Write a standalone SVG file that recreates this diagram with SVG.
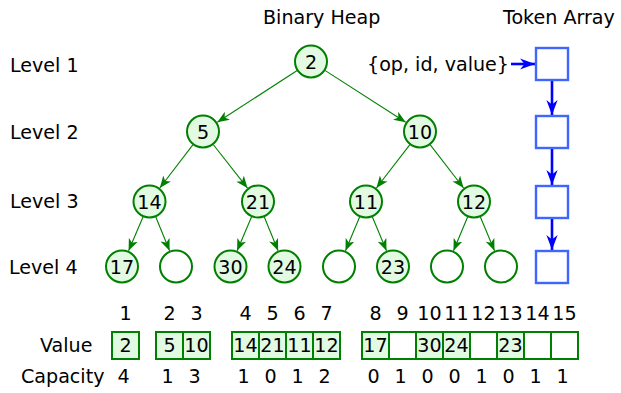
<svg xmlns="http://www.w3.org/2000/svg" width="621" height="393" viewBox="0 0 621 393">
<style>
text{font-family:"DejaVu Sans",Verdana,sans-serif;font-size:19.1px;fill:#000}
.c{text-anchor:middle}
.n{fill:#e2fae2;stroke:#008000;stroke-width:2}
.e{fill:#fff;stroke:#008000;stroke-width:2}
.edge{stroke:#008000;stroke-width:1.1;fill:none;marker-end:url(#ga)}
.tok{fill:#fff;stroke:#3f66ff;stroke-width:2.4}
.barr{stroke:#0000ff;stroke-width:2.6;fill:none;marker-end:url(#ba)}
.cf{fill:#e2fae2;stroke:#008000;stroke-width:2}
.ce{fill:#fff;stroke:#008000;stroke-width:2}
</style>
<defs>
<marker id="ga" viewBox="0 -5 12 10" refX="12" refY="0" markerWidth="12" markerHeight="10" markerUnits="userSpaceOnUse" orient="auto">
<path d="M0,-4.8 L12,0 L0,4.8 L3.2,0 z" fill="#008000"/>
</marker>
<marker id="ba" viewBox="0 -6 15 12" refX="15" refY="0" markerWidth="15" markerHeight="12" markerUnits="userSpaceOnUse" orient="auto">
<path d="M0,-5.6 L15,0 L0,5.6 L4.5,0 z" fill="#0000ff"/>
</marker>
</defs>
<rect width="621" height="393" fill="#fff"/>
<g id="titles">
<text x="263" y="23.5">Binary Heap</text>
<text x="503" y="24">Token Array</text>
<text x="10" y="72">Level 1</text>
<text x="10" y="139">Level 2</text>
<text x="10" y="208">Level 3</text>
<text x="9" y="274">Level 4</text>
</g>
<g id="connectors">
<line class="edge" x1="297.2" y1="70.5" x2="217.3" y2="122.3"/>
<line class="edge" x1="324.9" y1="70.4" x2="405.7" y2="122.3"/>
<line class="edge" x1="193.0" y1="144.6" x2="159.8" y2="188.0"/>
<line class="edge" x1="213.2" y1="144.5" x2="247.5" y2="188.1"/>
<line class="edge" x1="409.9" y1="144.6" x2="376.4" y2="188.0"/>
<line class="edge" x1="430.1" y1="144.6" x2="463.6" y2="188.0"/>
<line class="edge" x1="143.1" y1="216.7" x2="128.6" y2="250.8"/>
<line class="edge" x1="155.7" y1="216.8" x2="169.6" y2="250.8"/>
<line class="edge" x1="251.6" y1="216.7" x2="237.1" y2="250.8"/>
<line class="edge" x1="264.2" y1="216.8" x2="278.1" y2="250.8"/>
<line class="edge" x1="359.7" y1="216.7" x2="345.5" y2="250.8"/>
<line class="edge" x1="372.3" y1="216.7" x2="386.5" y2="250.8"/>
<line class="edge" x1="467.7" y1="216.7" x2="453.5" y2="250.8"/>
<line class="edge" x1="480.3" y1="216.7" x2="494.5" y2="250.8"/>
<line class="barr" x1="511" y1="64" x2="535" y2="64"/>
<line class="barr" x1="552" y1="81" x2="552" y2="115"/>
<line class="barr" x1="552" y1="149" x2="552" y2="185"/>
<line class="barr" x1="552" y1="219" x2="552" y2="250"/>
</g>
<g id="heap-1"><circle class="n" cx="311" cy="61.5" r="16"/><text class="c" x="311" y="68.5">2</text></g>
<g id="heap-2"><circle class="n" cx="203" cy="131.5" r="16"/><text class="c" x="203" y="138.5">5</text></g>
<g id="heap-3"><circle class="n" cx="420" cy="131.5" r="16"/><text class="c" x="420" y="138.5">10</text></g>
<g id="heap-4"><circle class="n" cx="149.5" cy="201.5" r="16"/><text class="c" x="149.5" y="208.5">14</text></g>
<g id="heap-5"><circle class="n" cx="258" cy="201.5" r="16"/><text class="c" x="258" y="208.5">21</text></g>
<g id="heap-6"><circle class="n" cx="366" cy="201.5" r="16"/><text class="c" x="366" y="208.5">11</text></g>
<g id="heap-7"><circle class="n" cx="474" cy="201.5" r="16"/><text class="c" x="474" y="208.5">12</text></g>
<g id="heap-8"><circle class="n" cx="122" cy="266.5" r="16"/><text class="c" x="122" y="273.5">17</text></g>
<g id="heap-9"><circle class="e" cx="176" cy="266.5" r="16"/></g>
<g id="heap-10"><circle class="n" cx="230.5" cy="266.5" r="16"/><text class="c" x="230.5" y="273.5">30</text></g>
<g id="heap-11"><circle class="n" cx="284.5" cy="266.5" r="16"/><text class="c" x="284.5" y="273.5">24</text></g>
<g id="heap-12"><circle class="e" cx="339" cy="266.5" r="16"/></g>
<g id="heap-13"><circle class="n" cx="393" cy="266.5" r="16"/><text class="c" x="393" y="273.5">23</text></g>
<g id="heap-14"><circle class="e" cx="447" cy="266.5" r="16"/></g>
<g id="heap-15"><circle class="e" cx="501" cy="266.5" r="16"/></g>
<g id="token-label"><text x="367" y="71">{op, id, value}</text></g>
<g id="token-1"><rect class="tok" x="536" y="48" width="32" height="32"/></g>
<g id="token-2"><rect class="tok" x="536" y="116" width="32" height="32"/></g>
<g id="token-3"><rect class="tok" x="536" y="186" width="32" height="32"/></g>
<g id="token-4"><rect class="tok" x="536" y="251" width="32" height="32"/></g>
<g id="array">
<text x="40" y="352">Value</text>
<text x="21" y="383">Capacity</text>
<text class="c" x="125.5" y="320">1</text>
<text class="c" x="169.5" y="320">2</text>
<text class="c" x="196.5" y="320">3</text>
<text class="c" x="245.5" y="320">4</text>
<text class="c" x="272.5" y="320">5</text>
<text class="c" x="299.5" y="320">6</text>
<text class="c" x="326.5" y="320">7</text>
<text class="c" x="375.5" y="320">8</text>
<text class="c" x="402.5" y="320">9</text>
<text class="c" x="429.5" y="320">10</text>
<text class="c" x="456.5" y="320">11</text>
<text class="c" x="483.5" y="320">12</text>
<text class="c" x="510.5" y="320">13</text>
<text class="c" x="537.5" y="320">14</text>
<text class="c" x="564.5" y="320">15</text>
<rect class="cf" x="112" y="332" width="27" height="27"/>
<rect class="cf" x="156" y="332" width="27" height="27"/>
<rect class="cf" x="183" y="332" width="27" height="27"/>
<rect class="cf" x="232" y="332" width="27" height="27"/>
<rect class="cf" x="259" y="332" width="27" height="27"/>
<rect class="cf" x="286" y="332" width="27" height="27"/>
<rect class="cf" x="313" y="332" width="27" height="27"/>
<rect class="cf" x="362" y="332" width="27" height="27"/>
<rect class="ce" x="389" y="332" width="27" height="27"/>
<rect class="cf" x="416" y="332" width="27" height="27"/>
<rect class="cf" x="443" y="332" width="27" height="27"/>
<rect class="ce" x="470" y="332" width="27" height="27"/>
<rect class="cf" x="497" y="332" width="27" height="27"/>
<rect class="ce" x="524" y="332" width="27" height="27"/>
<rect class="ce" x="551" y="332" width="27" height="27"/>
<text class="c" x="125.5" y="352">2</text>
<text class="c" x="169.5" y="352">5</text>
<text class="c" x="196.5" y="352">10</text>
<text class="c" x="245.5" y="352">14</text>
<text class="c" x="272.5" y="352">21</text>
<text class="c" x="299.5" y="352">11</text>
<text class="c" x="326.5" y="352">12</text>
<text class="c" x="375.5" y="352">17</text>
<text class="c" x="429.5" y="352">30</text>
<text class="c" x="456.5" y="352">24</text>
<text class="c" x="510.5" y="352">23</text>
<text class="c" x="123.5" y="383">4</text>
<text class="c" x="167.5" y="383">1</text>
<text class="c" x="194.5" y="383">3</text>
<text class="c" x="243.5" y="383">1</text>
<text class="c" x="270.5" y="383">0</text>
<text class="c" x="297.5" y="383">1</text>
<text class="c" x="324.5" y="383">2</text>
<text class="c" x="373.5" y="383">0</text>
<text class="c" x="400.5" y="383">1</text>
<text class="c" x="427.5" y="383">0</text>
<text class="c" x="454.5" y="383">0</text>
<text class="c" x="481.5" y="383">1</text>
<text class="c" x="508.5" y="383">0</text>
<text class="c" x="535.5" y="383">1</text>
<text class="c" x="562.5" y="383">1</text>
</g>
</svg>
